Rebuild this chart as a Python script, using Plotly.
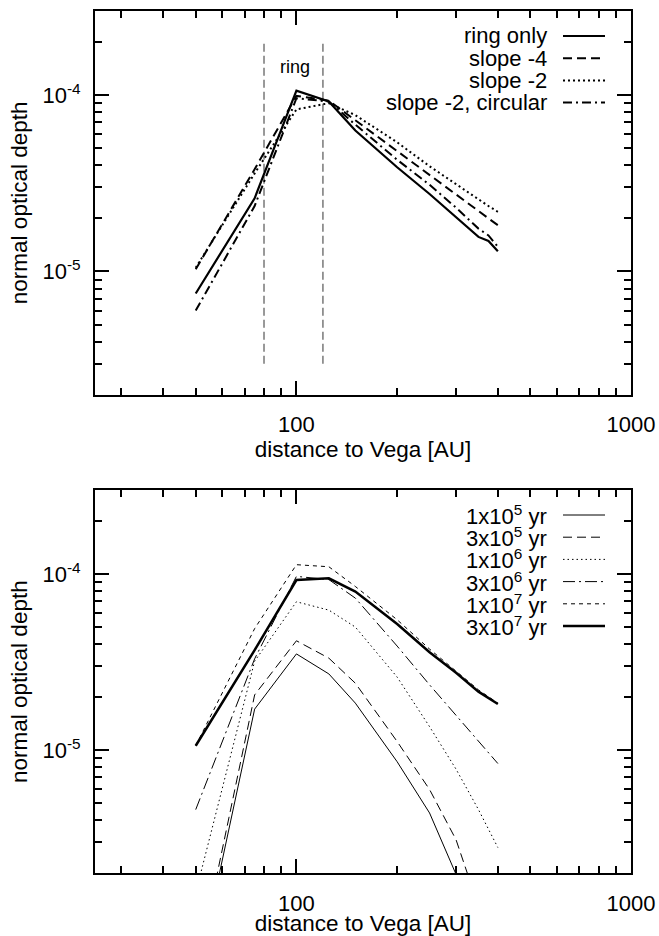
import numpy as np
import plotly.graph_objects as go

FONT = "Liberation Sans, Arial, Helvetica, sans-serif"

# ---------------- data: top panel ----------------
x_top = [50, 75, 100, 125, 150, 200, 250, 300, 350, 375, 400]
ring_only = [7.5e-6, 2.6e-5, 1.06e-4, 9.2e-5, 6.3e-5, 3.9e-5, 2.75e-5, 2.02e-5, 1.57e-5, 1.49e-5, 1.3e-5]
slope_m4 = [1.03e-5, 3.8e-5, 9.9e-5, 9.3e-5, 7.2e-5, 4.8e-5, 3.53e-5, 2.73e-5, 2.2e-5, 2.0e-5, 1.83e-5]
slope_m2 = [1.05e-5, 3.6e-5, 8.3e-5, 9.0e-5, 7.7e-5, 5.4e-5, 3.95e-5, 3.12e-5, 2.56e-5, 2.35e-5, 2.18e-5]
slope_m2_circ = [6.0e-6, 2.35e-5, 9.6e-5, 9.2e-5, 6.8e-5, 4.3e-5, 3.1e-5, 2.3e-5, 1.75e-5, 1.6e-5, 1.38e-5]
top_names = ["ring only", "slope -4", "slope -2", "slope -2, circular"]

ring_edges = [80, 120]
ring_span = [3e-6, 2e-4]
ring_label_pos = (99, 1.45e-4)

# ---------------- data: bottom panel ----------------
x_bot = [50, 75, 100, 125, 150, 200, 250, 300, 350, 400]
age_1e5 = [4.7e-7, 1.71e-5, 3.52e-5, 2.71e-5, 1.85e-5, 8.6e-6, 4.4e-6, 1.95e-6, 1.0e-6, 6e-7]
age_3e5 = [5.2e-7, 2.06e-5, 4.18e-5, 3.33e-5, 2.4e-5, 1.12e-5, 5.98e-6, 3.1e-6, 1.3e-6, 6e-7]
age_1e6 = [1.55e-6, 3.2e-5, 6.96e-5, 6.24e-5, 5.0e-5, 2.6e-5, 1.36e-5, 7.8e-6, 4.6e-6, 2.8e-6]
age_3e6 = [4.6e-6, 3.3e-5, 9.7e-5, 9.3e-5, 7.3e-5, 3.9e-5, 2.35e-5, 1.58e-5, 1.12e-5, 8.4e-6]
age_1e7 = [1.06e-5, 4.9e-5, 1.13e-4, 1.1e-4, 8.5e-5, 5.5e-5, 3.75e-5, 2.8e-5, 2.2e-5, 1.85e-5]
age_3e7 = [1.06e-5, 3.7e-5, 9.25e-5, 9.45e-5, 7.95e-5, 5.2e-5, 3.6e-5, 2.75e-5, 2.15e-5, 1.83e-5]
bot_names = ["1x10<sup>5</sup> yr", "3x10<sup>5</sup> yr", "1x10<sup>6</sup> yr",
             "3x10<sup>6</sup> yr", "1x10<sup>7</sup> yr", "3x10<sup>7</sup> yr"]

x_ticks = [100, 1000]
x_minor = [30, 40, 50, 60, 70, 80, 90, 200, 300, 400, 500, 600, 700, 800, 900]
y_ticks = [1e-5, 1e-4]
y_ticktext = ["10<sup>-5</sup>", "10<sup>-4</sup>"]
y_minor = [3e-6, 4e-6, 5e-6, 6e-6, 7e-6, 8e-6, 9e-6,
           2e-5, 3e-5, 4e-5, 5e-5, 6e-5, 7e-5, 8e-5, 9e-5, 2e-4]
x_range = [25, 1000]
y_range = [2e-6, 3e-4]

# ---------------- styles ----------------
top_styles = [("solid", 2.2), ("9px,5px", 2.0), ("2px,3px", 2.0), ("9px,4px,2px,4px", 2.0)]
bot_styles = [("solid", 1.0), ("9px,5px", 1.0), ("1.5px,3px", 1.0),
              ("12px,4px,2px,4px", 1.0), ("4px,4px", 1.0), ("solid", 2.5)]

fig = go.Figure()


def add_line(x, y, dash, width, xa, ya, color="black"):
    fig.add_trace(go.Scatter(x=x, y=y, mode="lines",
                             line=dict(color=color, width=width, dash=dash),
                             xaxis=xa, yaxis=ya, showlegend=False, hoverinfo="skip"))


for xe in ring_edges:
    add_line([xe, xe], ring_span, "8px,4px", 1.5, "x", "y", color="#777777")

for ys, (d, w) in zip([ring_only, slope_m4, slope_m2, slope_m2_circ], top_styles):
    add_line(x_top, ys, d, w, "x", "y")

for ys, (d, w) in zip([age_1e5, age_3e5, age_1e6, age_3e6, age_1e7, age_3e7], bot_styles):
    add_line(x_bot, ys, d, w, "x2", "y2")

# target picture geometry (px in a 659x936 picture)
TW, H = 659, 936
W = 683  # page rendered wider, then fitted to the window width
fl, fr = 95, 631
top_t, top_b = 11, 394.7
bot_t, bot_b = 490, 873.3
xdom = [fl / TW, fr / TW]
ydom_top = [1 - top_b / H, 1 - top_t / H]
ydom_bot = [1 - bot_b / H, 1 - bot_t / H]

FS = 22
FT = 22.5
tickfont = dict(size=FS, family=FONT, color="black")
minor_common = dict(ticks="inside", ticklen=7, tickwidth=1.5, tickcolor="black")


def xaxis_def(anchor):
    return dict(type="log", range=[np.log10(x_range[0]), np.log10(x_range[1])], domain=xdom,
                anchor=anchor, showline=True, linewidth=2, linecolor="black", mirror="allticks",
                ticks="inside", ticklen=14, tickwidth=1.5, tickcolor="black",
                tickmode="array", tickvals=x_ticks, ticktext=[str(v) for v in x_ticks],
                minor=dict(tickmode="array", tickvals=x_minor, **minor_common),
                showgrid=False, zeroline=False, tickfont=tickfont, ticklabelstandoff=9,
                title=dict(text="distance to Vega [AU]", font=dict(size=FT, family=FONT, color="black"),
                           standoff=3))


def yaxis_def(anchor, dom):
    return dict(type="log", range=[np.log10(y_range[0]), np.log10(y_range[1])], domain=dom,
                anchor=anchor, showline=True, linewidth=2, linecolor="black", mirror="allticks",
                ticks="inside", ticklen=14, tickwidth=1.5, tickcolor="black",
                tickmode="array", tickvals=y_ticks, ticktext=y_ticktext,
                minor=dict(tickmode="array", tickvals=y_minor, **minor_common),
                showgrid=False, zeroline=False, tickfont=tickfont, ticklabelstandoff=8,
                title=dict(text="normal optical depth", font=dict(size=FT, family=FONT, color="black"),
                           standoff=9))


shapes = []
annotations = []


def add_legend(names, styles, xref, yref, frame_h):
    for i, (name, (d, w)) in enumerate(zip(names, styles)):
        yy = 1 - (25 + 22.2 * i) / frame_h
        shapes.append(dict(type="line", xref=xref, yref=yref, x0=(563 - fl) / (fr - fl),
                           x1=(605 - fl) / (fr - fl), y0=yy, y1=yy,
                           line=dict(color="black", width=w, dash=d)))
        annotations.append(dict(xref=xref, yref=yref, x=(549 - fl) / (fr - fl), y=yy,
                                xanchor="right", yanchor="middle", showarrow=False, text=name,
                                font=dict(size=FS, family=FONT, color="black")))


add_legend(top_names, top_styles, "x domain", "y domain", top_b - top_t)
add_legend(bot_names, bot_styles, "x2 domain", "y2 domain", bot_b - bot_t)

annotations.append(dict(xref="x", yref="y", x=np.log10(ring_label_pos[0]), y=np.log10(ring_label_pos[1]),
                        text="ring", showarrow=False, xanchor="center", yanchor="middle",
                        font=dict(size=18, family=FONT, color="black")))

fig.update_layout(
    width=W, height=H, autosize=False, margin=dict(l=0, r=0, t=0, b=0),
    paper_bgcolor="white", plot_bgcolor="white",
    xaxis=xaxis_def("y"), yaxis=yaxis_def("x", ydom_top),
    xaxis2=xaxis_def("y2"), yaxis2=yaxis_def("x2", ydom_bot),
    shapes=shapes, annotations=annotations, showlegend=False,
    font=dict(family=FONT, color="black"),
)

fig.write_html(
    "out.html",
    config={"responsive": False},
    post_script="document.body.style.margin='0';document.documentElement.style.overflow='hidden';",
)
